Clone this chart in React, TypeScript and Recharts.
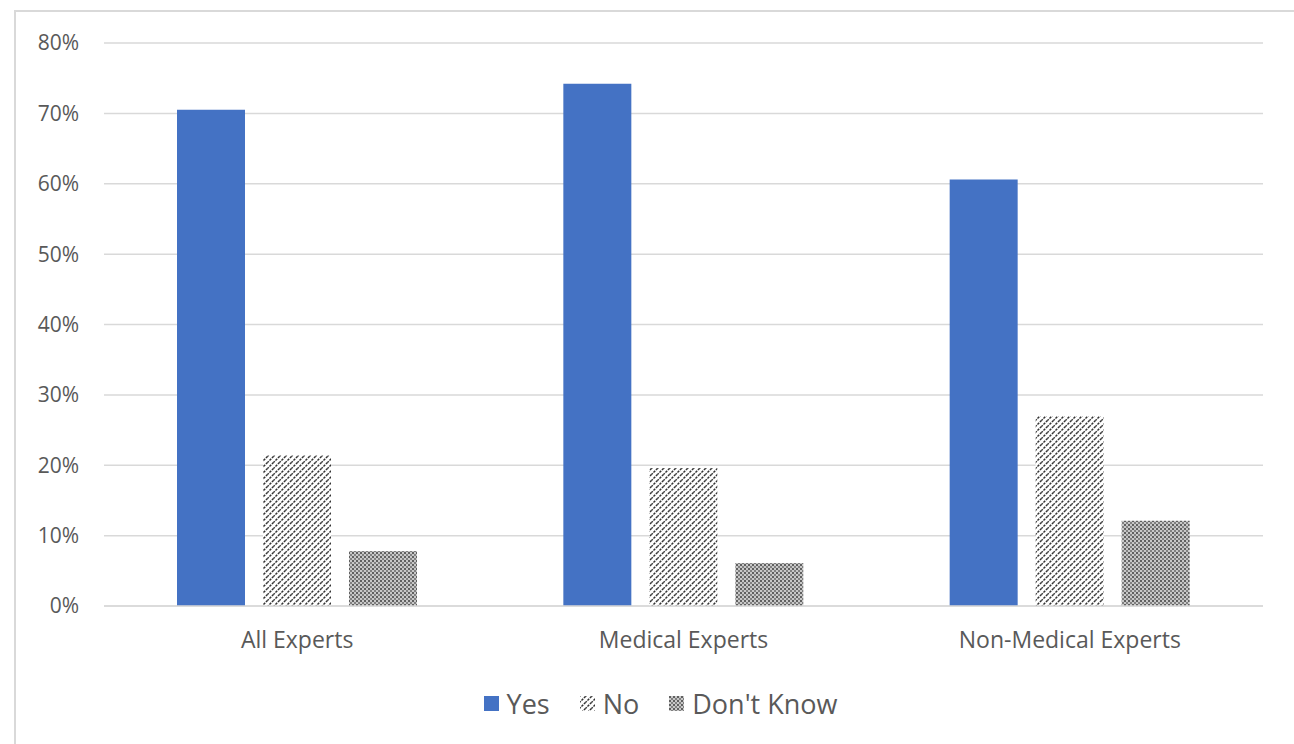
import React from 'react';
import { BarChart, Bar, XAxis, YAxis, CartesianGrid, Legend } from 'recharts';

const categories = ['All Experts', 'Medical Experts', 'Non-Medical Experts'];
const yesValues = [0.705, 0.742, 0.606];
const noValues = [0.214, 0.196, 0.27];
const dontKnowValues = [0.078, 0.061, 0.121];
const yTicks = [0, 0.1, 0.2, 0.3, 0.4, 0.5, 0.6, 0.7, 0.8];

const seriesInfo = [
  { key: 'yes', label: 'Yes', fill: '#4472C4' },
  { key: 'no', label: 'No', fill: 'url(#hatchNo)' },
  { key: 'dk', label: "Don't Know", fill: 'url(#dotsDk)' },
];

const data = categories.map((name, i) => ({
  name,
  yes: yesValues[i],
  no: noValues[i],
  dk: dontKnowValues[i],
}));

const FONT = '"Open Sans", "Noto Sans", sans-serif';
const TEXT = '#595959';

const LegendContent = () => (
  <div style={{ display: 'flex', justifyContent: 'center', alignItems: 'center', fontFamily: FONT, fontSize: 27, color: TEXT, paddingLeft: 42 }}>
    {seriesInfo.map((s) => (
      <div key={s.key} style={{ display: 'flex', alignItems: 'center', margin: '0 15px' }}>
        <svg width={15} height={15} style={{ marginRight: 8 }}>
          <rect width={15} height={15} fill={s.fill} />
        </svg>
        <span>{s.label}</span>
      </div>
    ))}
  </div>
);

export default function App() {
  return (
    <div
      style={{
        position: 'absolute',
        left: 14,
        top: 10,
        width: 1290,
        height: 740,
        border: '2px solid #d9d9d9',
        background: '#fff',
      }}
    >
      <BarChart
        width={1290}
        height={740}
        data={data}
        margin={{ top: 31, right: 43, left: 0, bottom: 39 }}
        barSize={68}
        barGap={18}
      >
        <defs>
          <pattern id="hatchNo" width={6} height={6} patternUnits="userSpaceOnUse">
            <rect width={6} height={6} fill="#fff" />
            <path d="M-1,7 L7,-1 M-4,4 L4,-4 M2,10 L10,2" stroke="#333" strokeWidth={1.5} strokeDasharray="2.5 1" />
          </pattern>
          <pattern id="dotsDk" width={4} height={4} patternUnits="userSpaceOnUse">
            <rect width={4} height={4} fill="#c8c8c8" />
            <rect x={0} y={0} width={2} height={2} fill="#606060" />
            <rect x={2} y={2} width={2} height={2} fill="#808080" />
          </pattern>
        </defs>
        <CartesianGrid vertical={false} stroke="#d9d9d9" strokeWidth={1.5} />
        <XAxis
          dataKey="name"
          axisLine={{ stroke: '#d9d9d9', strokeWidth: 1.5 }}
          tickLine={false}
          tickSize={0}
          tickMargin={26}
          height={70}
          tick={{ fill: TEXT, fontSize: 23, fontFamily: FONT }}
        />
        <YAxis
          domain={[0, 0.8]}
          ticks={yTicks}
          width={88}
          axisLine={false}
          tickLine={false}
          tickSize={0}
          tickMargin={25}
          tickFormatter={(v: number) => `${Math.round(v * 100)}%`}
          tick={{ fill: TEXT, fontSize: 21, fontFamily: FONT }}
        />
        <Legend verticalAlign="bottom" content={<LegendContent />} wrapperStyle={{ bottom: 30 }} />
        {seriesInfo.map((s) => (
          <Bar key={s.key} dataKey={s.key} name={s.label} fill={s.fill} isAnimationActive={false} />
        ))}
      </BarChart>
    </div>
  );
}
